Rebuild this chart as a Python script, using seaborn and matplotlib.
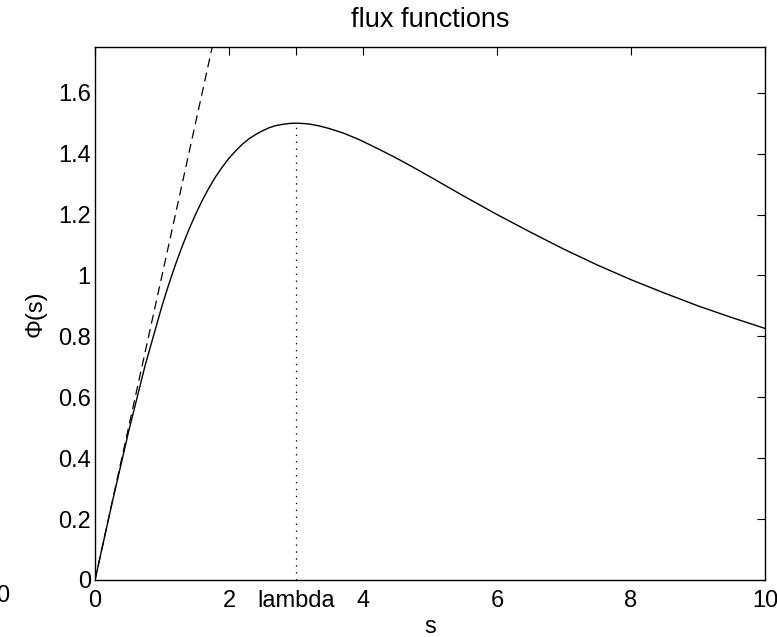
import numpy as np
import pandas as pd
import matplotlib
matplotlib.use("Agg")
import matplotlib.pyplot as plt
import seaborn as sns

# values
s_vals = [0, 0.25, 0.5, 0.75, 1.0, 1.1, 1.2, 1.3, 1.4, 1.5, 1.6, 1.7, 1.8,
          1.9, 2.0, 2.1, 2.2, 2.3, 2.4, 2.5, 2.6, 2.7, 2.8, 2.9, 3.0, 3.1,
          3.2, 3.3, 3.4, 3.5, 3.6, 3.7, 3.8, 3.9, 4.0, 4.25, 4.5, 4.75, 5.0,
          5.5, 6.0, 6.5, 7.0, 7.5, 8.0, 8.5, 9.0, 9.5, 10.0]
phi_vals = [0, 0.248, 0.486, 0.706, 0.900, 0.970, 1.035, 1.095, 1.150, 1.200,
            1.246, 1.287, 1.324, 1.356, 1.385, 1.409, 1.431, 1.449, 1.463,
            1.475, 1.485, 1.492, 1.496, 1.499, 1.500, 1.499, 1.497, 1.493,
            1.488, 1.482, 1.475, 1.468, 1.459, 1.450, 1.440, 1.413, 1.385,
            1.355, 1.324, 1.261, 1.200, 1.142, 1.086, 1.034, 0.986, 0.942,
            0.900, 0.862, 0.826]
tangent_s = [0, 2.0]
tangent_phi = [0, 2.0]
lambda_s = [3, 3]
lambda_phi = [0, 1.5]
xticks = [0, 2, 3, 4, 6, 8, 10]
xtick_labels = ["0", "2", "lambda", "4", "6", "8", "10"]
yticks = [0, 0.2, 0.4, 0.6, 0.8, 1.0, 1.2, 1.4, 1.6]
ytick_labels = ["0", "0.2", "0.4", "0.6", "0.8", "1", "1.2", "1.4", "1.6"]

sns.set_theme(style="white")
plt.rcParams['font.family'] = ['Liberation Sans', 'DejaVu Sans']
plt.rcParams['lines.scale_dashes'] = False

W, H = 777, 637
fig = plt.figure(figsize=(W/100, H/100), dpi=100)
ax = fig.add_axes([95/W, 1 - 580/H, (765-95)/W, (580-47)/H])

df_curve = pd.DataFrame({"s": s_vals, "phi": phi_vals})
df_tan = pd.DataFrame({"s": tangent_s, "phi": tangent_phi})
df_lam = pd.DataFrame({"s": lambda_s, "phi": lambda_phi})

sns.lineplot(data=df_curve, x="s", y="phi", ax=ax, color="black", lw=1.0,
             sort=False, estimator=None)
sns.lineplot(data=df_tan, x="s", y="phi", ax=ax, color="black", lw=0.9,
             linestyle=(0, (6.5, 4)), sort=False, estimator=None)
sns.lineplot(data=df_lam, x="s", y="phi", ax=ax, color="black", lw=0.9,
             linestyle=(0, (1.0, 4.0)), sort=False, estimator=None)

ax.set_xlim(0, 10)
ax.set_ylim(0, 1.75)
ax.set_xticks(xticks)
ax.set_xticklabels(xtick_labels)
ax.set_yticks(yticks)
ax.set_yticklabels(ytick_labels)
ax.tick_params(direction="in", length=6, width=0.8, color="black",
               labelsize=17, top=True, right=True, labelcolor="black")
ax.tick_params(axis="x", pad=7)
ax.tick_params(axis="y", pad=3)
for sp in ax.spines.values():
    sp.set_color("black")
    sp.set_linewidth(1.0)
    sp.set_visible(True)

ax.set_xlabel("")
ax.set_ylabel("Φ(s)", fontsize=17, color="black", labelpad=8)
ax.set_title("")
fig.text(430/W, 1 - 627/H, "s", fontsize=17, ha="center", va="center", color="black")
fig.text(430/W, 1 - 27/H, "flux functions", fontsize=19.5, ha="center",
         va="baseline", color="black")

fig.text(3/W, 1 - 596/H, "0", fontsize=17, ha="center", va="center", color="black")

fig.savefig("out.png", dpi=100, facecolor="white")
